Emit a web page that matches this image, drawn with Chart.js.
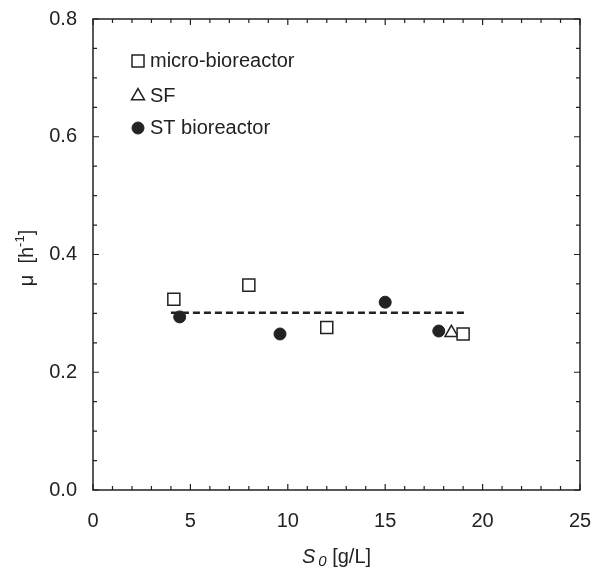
<!DOCTYPE html>
<html>
<head>
<meta charset="utf-8">
<script src="https://cdn.jsdelivr.net/npm/chart.js@4.4.1/dist/chart.umd.min.js"></script>
<style>
  html, body { margin: 0; padding: 0; background: #fff; }
  #wrap { width: 601px; height: 573px; }
</style>
</head>
<body>
<div id="wrap"><canvas id="myCanvas" width="601" height="573"></canvas></div>
<script>
// values
const microX = [4.15, 8.0, 12.0, 19.0];
const microY = [0.324, 0.348, 0.276, 0.265];
const sfX = [18.4];
const sfY = [0.267];
const stX = [4.45, 9.6, 15.0, 17.75];
const stY = [0.294, 0.265, 0.319, 0.270];
const fitX = [4.0, 19.2];
const fitY = [0.301, 0.301];

const xTicks = [0, 5, 10, 15, 20, 25];
const yTicks = [0.0, 0.2, 0.4, 0.6, 0.8];

const ink = '#222';
const font = 'Liberation Sans, Arial, sans-serif';

function pts(xs, ys) {
  return xs.map((x, i) => ({ x: x, y: ys[i] }));
}

// frame with inward ticks on all four sides, axis titles, legend
const framePlugin = {
  id: 'frame',
  afterDatasetsDraw(chart) {
    const ctx = chart.ctx;
    const a = chart.chartArea;
    const xs = chart.scales.x, ys = chart.scales.y;
    ctx.save();
    ctx.strokeStyle = ink;
    ctx.lineWidth = 1.5;
    ctx.strokeRect(a.left, a.top, a.right - a.left, a.bottom - a.top);

    ctx.lineWidth = 1.2;
    ctx.beginPath();
    for (let v = 0; v <= 25; v += 1) {
      const px = xs.getPixelForValue(v);
      const len = v % 5 === 0 ? 6 : 4;
      ctx.moveTo(px, a.bottom); ctx.lineTo(px, a.bottom - len);
      ctx.moveTo(px, a.top); ctx.lineTo(px, a.top + len);
    }
    for (let i = 0; i <= 16; i++) {
      const py = ys.getPixelForValue(i * 0.05);
      const len = i % 4 === 0 ? 6 : 4;
      ctx.moveTo(a.left, py); ctx.lineTo(a.left + len, py);
      ctx.moveTo(a.right, py); ctx.lineTo(a.right - len, py);
    }
    ctx.stroke();

    // x title: S0 [g/L] with italic S and subscript 0
    ctx.fillStyle = ink;
    ctx.textBaseline = 'alphabetic';
    ctx.textAlign = 'left';
    const cx = (a.left + a.right) / 2;
    ctx.font = 'italic 20px ' + font;
    const wS = ctx.measureText('S').width;
    ctx.font = 'italic 15px ' + font;
    const w0 = ctx.measureText('0').width;
    ctx.font = '20px ' + font;
    const wRest = ctx.measureText(' [g/L]').width;
    let tx = cx - (wS + 3 + w0 + wRest) / 2;
    const ty = 563;
    ctx.font = 'italic 20px ' + font;
    ctx.fillText('S', tx, ty);
    tx += wS + 3;
    ctx.font = 'italic 15px ' + font;
    ctx.fillText('0', tx, ty + 3);
    tx += w0;
    ctx.font = '20px ' + font;
    ctx.fillText(' [g/L]', tx, ty);

    // y title: mu [h-1] rotated
    ctx.save();
    ctx.translate(33, 258);
    ctx.rotate(-Math.PI / 2);
    ctx.font = '20px ' + font;
    const p1 = 'μ  [h', p2 = '-1', p3 = ']';
    const w1 = ctx.measureText(p1).width;
    const w3 = ctx.measureText(p3).width;
    ctx.font = '13px ' + font;
    const w2 = ctx.measureText(p2).width;
    let rx = -(w1 + w2 + w3) / 2;
    ctx.font = '20px ' + font;
    ctx.fillText(p1, rx, 0);
    rx += w1;
    ctx.font = '13px ' + font;
    ctx.fillText(p2, rx, -9);
    rx += w2;
    ctx.font = '20px ' + font;
    ctx.fillText(p3, rx, 0);
    ctx.restore();

    // legend
    const rows = [61, 96, 128];
    const sets = chart.data.datasets.filter(d => d.inLegend);
    sets.forEach((d, i) => {
      const y = rows[i];
      ctx.strokeStyle = ink;
      ctx.fillStyle = d.pointBackgroundColor;
      ctx.lineWidth = d.pointBorderWidth;
      Chart.helpers.drawPoint(ctx, {
        pointStyle: d.pointStyle,
        radius: d.pointRadius,
        rotation: 0,
        borderWidth: d.pointBorderWidth
      }, 138, y);
      ctx.fillStyle = ink;
      ctx.font = '20px ' + font;
      ctx.textBaseline = 'middle';
      ctx.fillText(d.label, 150, y);
    });
    ctx.restore();
  }
};

const canvas = document.getElementById('myCanvas');
const chart = new Chart(canvas.getContext('2d'), {
  type: 'scatter',
  data: {
    datasets: [
      {
        label: 'micro-bioreactor', inLegend: true,
        data: pts(microX, microY),
        pointStyle: 'rect', pointRadius: 8.5,
        pointBackgroundColor: '#fff', pointBorderColor: ink, pointBorderWidth: 1.5,
        order: 1
      },
      {
        label: 'SF', inLegend: true,
        data: pts(sfX, sfY),
        pointStyle: 'triangle', pointRadius: 7.5,
        pointBackgroundColor: '#fff', pointBorderColor: ink, pointBorderWidth: 1.5,
        order: 1
      },
      {
        label: 'ST bioreactor', inLegend: true,
        data: pts(stX, stY),
        pointStyle: 'circle', pointRadius: 6,
        pointBackgroundColor: ink, pointBorderColor: ink, pointBorderWidth: 1,
        order: 0
      },
      {
        label: 'fit',
        type: 'line',
        data: pts(fitX, fitY),
        borderColor: ink, borderWidth: 2.5, borderDash: [7, 4],
        pointRadius: 0, fill: false,
        order: 5
      }
    ]
  },
  options: {
    responsive: false,
    animation: false,
    layout: { padding: { top: 19, right: 21, left: 0, bottom: 0 } },
    plugins: { legend: { display: false }, tooltip: { enabled: false } },
    scales: {
      x: {
        type: 'linear', min: 0, max: 25,
        afterFit: s => { s.height = 83; s.paddingLeft = 0; s.paddingRight = 0; },
        afterBuildTicks: s => { s.ticks = xTicks.map(v => ({ value: v })); },
        grid: { display: false, drawTicks: false },
        border: { display: false },
        ticks: { color: ink, font: { size: 20, family: font }, padding: 19, maxRotation: 0 }
      },
      y: {
        type: 'linear', min: 0, max: 0.8,
        afterFit: s => { s.width = 93; s.paddingTop = 0; s.paddingBottom = 0; },
        afterBuildTicks: s => { s.ticks = yTicks.map(v => ({ value: v })); },
        grid: { display: false, drawTicks: false },
        border: { display: false },
        ticks: { color: ink, font: { size: 20, family: font }, padding: 16,
                 callback: v => v.toFixed(1) }
      }
    }
  },
  plugins: [framePlugin]
});
</script>
</body>
</html>
